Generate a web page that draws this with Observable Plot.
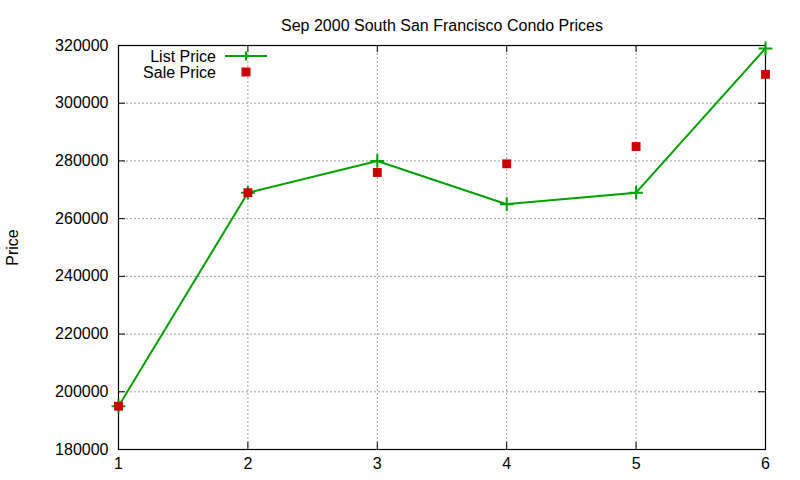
<!DOCTYPE html>
<html>
<head>
<meta charset="utf-8">
<script src="https://cdn.jsdelivr.net/npm/d3@7"></script>
<script src="https://cdn.jsdelivr.net/npm/@observablehq/plot@0.6"></script>
<style>
  html, body { margin: 0; padding: 0; background: #fff; }
  #wrap { position: relative; width: 800px; height: 480px; font-family: "Liberation Sans", Arial, sans-serif; }
  #legend { position: absolute; left: 0; top: 0; pointer-events: none; }
</style>
</head>
<body>
<div id="wrap"></div>
<script>
const titleText = "Sep 2000 South San Francisco Condo Prices";
const yLabel = "Price";
const months = [1, 2, 3, 4, 5, 6];
const listPrice = [195000, 269000, 280000, 265000, 269000, 319000];
const salePrice = [195000, 269000, 276000, 279000, 285000, 310000];
const xTicks = [1, 2, 3, 4, 5, 6];
const yTicks = [180000, 200000, 220000, 240000, 260000, 280000, 300000, 320000];
const seriesNames = ["List Price", "Sale Price"];

const green = "#00a000";
const red = "#cc0000";
const W = 800, H = 480;
const mL = 118, mR = 35, mT = 45, mB = 31;
const fw = W - mL - mR, fh = H - mT - mB;

const listData = months.map((m, i) => ({x: m, y: listPrice[i]}));
const saleData = months.map((m, i) => ({x: m, y: salePrice[i]}));
const xGrid = xTicks.slice(1, -1);
const yGrid = yTicks.slice(1, -1);

const chart = Plot.plot({
  width: W, height: H,
  marginLeft: mL, marginRight: mR, marginTop: mT, marginBottom: mB,
  style: {fontFamily: "'Liberation Sans', Arial, sans-serif", fontSize: "16px", color: "#000", background: "#fff"},
  x: {domain: [1, 6]},
  y: {domain: [180000, 320000]},
  marks: [
    Plot.ruleX(xGrid, {x: d => d, stroke: "#a0a0a0", strokeDasharray: "2,2", strokeWidth: 1}),
    Plot.ruleY(yGrid, {y: d => d, stroke: "#a0a0a0", strokeDasharray: "2,2", strokeWidth: 1}),
    // inward ticks on all four sides
    Plot.tickY(yTicks, {y: d => d, insetRight: fw - 7, stroke: "#000"}),
    Plot.tickY(yTicks, {y: d => d, insetLeft: fw - 7, stroke: "#000"}),
    Plot.tickX(xTicks, {x: d => d, insetTop: fh - 7, stroke: "#000"}),
    Plot.tickX(xTicks, {x: d => d, insetBottom: fh - 7, stroke: "#000"}),
    Plot.axisY(yTicks, {tickSize: 0, tickPadding: 10, label: null, fontSize: 16, tickFormat: d => String(d)}),
    Plot.axisX(xTicks, {tickSize: 0, tickPadding: 8, label: null, fontSize: 16, tickFormat: d => String(d)}),
    Plot.frame({stroke: "#000", strokeWidth: 1.2}),
    Plot.line(listData, {x: "x", y: "y", stroke: green, strokeWidth: 2}),
    Plot.dot(listData, {x: "x", y: "y", symbol: "plus", stroke: green, strokeWidth: 2, r: 4.5}),
    Plot.dot(saleData, {x: "x", y: "y", symbol: "square", fill: red, stroke: "none", r: 5}),
    Plot.text([titleText], {frameAnchor: "top", dy: -26, text: d => d, fontSize: 16, fill: "#000"}),
    Plot.text([yLabel], {frameAnchor: "left", dx: -106, rotate: -90, textAnchor: "middle", text: d => d, fontSize: 16, fill: "#000"})
  ]
});
document.getElementById("wrap").appendChild(chart);

// legend overlay
const leg = d3.select("#wrap").append("svg")
  .attr("id", "legend").attr("width", W).attr("height", H);
const legY = [56, 72];
leg.selectAll("text").data(seriesNames).join("text")
  .attr("x", 216).attr("y", (d, i) => legY[i]).attr("dy", "0.35em")
  .attr("text-anchor", "end")
  .attr("font-family", "'Liberation Sans', Arial, sans-serif").attr("font-size", 16)
  .attr("fill", "#000").text(d => d);
leg.append("line").attr("x1", 225).attr("x2", 267).attr("y1", legY[0]).attr("y2", legY[0])
  .attr("stroke", green).attr("stroke-width", 2);
leg.append("path").attr("d", `M${246-4.5},${legY[0]}h9M246,${legY[0]-4.5}v9`)
  .attr("stroke", green).attr("stroke-width", 2);
leg.append("rect").attr("x", 246 - 4.5).attr("y", legY[1] - 4.5).attr("width", 9).attr("height", 9)
  .attr("fill", red);
</script>
</body>
</html>
